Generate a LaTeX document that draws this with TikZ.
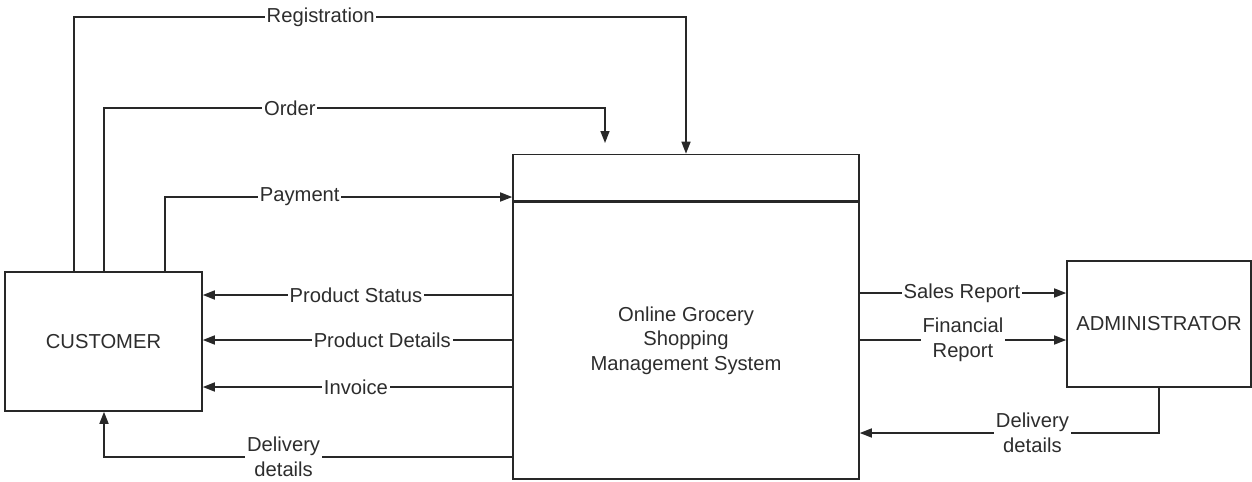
\documentclass[tikz,border=0pt]{standalone}
\usepackage{fontspec}
\setmainfont{Liberation Sans}
\usepackage{tikz}
\usetikzlibrary{arrows.meta,positioning}
\definecolor{linecolor}{RGB}{40,40,40}
\definecolor{textcolor}{RGB}{45,45,45}

\begin{document}
\begin{tikzpicture}[
        x=0.02cm, y=-0.02cm,
        font=\fontsize{11.5}{14}\selectfont,
        entity/.style={rectangle, draw=linecolor, line width=0.9pt, fill=white, text=textcolor},
        procbox/.style={rectangle, draw=linecolor, line width=0.9pt, minimum width=6.92cm, text=textcolor, align=center},
        flow/.style={draw=linecolor, line width=0.9pt, -{Triangle[length=0.24cm, width=0.18cm]}},
        lbl/.style={fill=white, text=textcolor, inner xsep=1pt, inner ysep=0.5pt, align=center}
    ]
    \useasboundingbox (0,0) rectangle (1252,481);

    % external entities and the process
    \node[entity, minimum width=3.94cm, minimum height=2.78cm] (customer) at (103.5,341.5) {CUSTOMER};
    \node[entity, minimum width=3.68cm, minimum height=2.52cm] (admin) at (1159,324) {ADMINISTRATOR};
    \node[procbox, minimum height=5.54cm] (ogsms) at (686,340.5) {Online Grocery\\Shopping\\Management System};
    \node[procbox, minimum height=0.92cm, above=0pt of ogsms] (ogsmstop) {};

    % customer -> system
    \draw[flow] (customer.north -| 74,0) -- (74,17)
        -- node[lbl, pos=0.403] {Registration} (ogsmstop.north |- 0,17) -- (ogsmstop.north);
    \coordinate (orderend) at (605,143);
    \draw[flow] (customer.north -| 104,0) -- (104,108)
        -- node[lbl, pos=0.371] {Order} (orderend |- 0,108) -- (orderend);
    \draw[flow] (customer.north -| 165,0) -- (165,197)
        -- node[lbl, pos=0.388] {Payment} (ogsmstop.west |- 0,197);

    % system -> customer
    \draw[flow] (ogsms.west |- 0,295) -- node[lbl, pos=0.505] {Product Status} (customer.east |- 0,295);
    \draw[flow] (ogsms.west |- 0,340) -- node[lbl, pos=0.42] {Product Details} (customer.east |- 0,340);
    \draw[flow] (ogsms.west |- 0,387) -- node[lbl, pos=0.505] {Invoice} (customer.east |- 0,387);
    \draw[flow] (ogsms.west |- 0,457) -- node[lbl, pos=0.56] {Delivery\\details} (104,457) -- (customer.south -| 104,0);

    % system <-> administrator
    \draw[flow] (ogsms.east |- 0,293) -- node[lbl, pos=0.495] {Sales Report} (admin.west |- 0,293);
    \draw[flow] (ogsms.east |- 0,340) -- node[lbl, pos=0.5] {Financial\\Report} (admin.west |- 0,340);
    \draw[flow] (admin.south) -- (admin.south |- 0,433)
        -- node[lbl, pos=0.423] {Delivery\\details} (ogsms.east |- 0,433);
\end{tikzpicture}
\end{document}
